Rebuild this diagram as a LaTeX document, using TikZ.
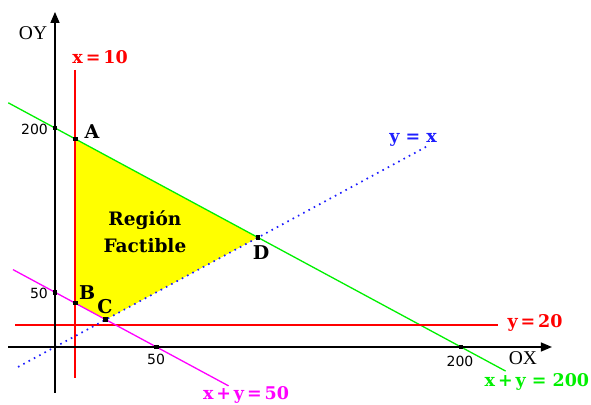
\documentclass[tikz,border=0pt]{standalone}
\usepackage{fontspec}
\setmainfont{Liberation Serif}
\newfontfamily\lblfont{DejaVu Serif}
\newfontfamily\numfont{DejaVu Sans}
\usetikzlibrary{arrows.meta}
\definecolor{lgreen}{RGB}{0,240,0}
\definecolor{lred}{RGB}{255,0,0}
\definecolor{lmag}{RGB}{255,0,255}
\definecolor{lblue}{RGB}{30,30,255}
\definecolor{lyellow}{RGB}{255,255,0}
\tikzset{
  lbl/.style={font=\lblfont\bfseries\fontsize{17.5}{19}\selectfont, inner sep=0pt},
  ptlbl/.style={font=\lblfont\bfseries\fontsize{19}{21}\selectfont, inner sep=0pt},
  num/.style={font=\numfont\fontsize{14}{15}\selectfont, inner sep=0pt},
  axlbl/.style={font=\fontsize{19.5}{21}\selectfont, inner sep=0pt},
  dotpt/.style={rectangle, fill=black, minimum size=4.5pt, inner sep=0pt},
  axis/.style={line width=1.4pt, -{Triangle[length=11pt,width=9pt]}},
  thinline/.style={line width=1.3pt}
}
\begin{document}
\begin{tikzpicture}[x=2.03pt, y=1.095pt]
\useasboundingbox (-27.09,-52.05) rectangle (264.04,316.9);
% named coordinates
\coordinate (O) at (0,0);
\coordinate (A) at (10,190);
\coordinate (B) at (10,40);
\coordinate (C) at (25,25);
\coordinate (D) at (100,100);
\coordinate (g1) at (-23,223);
\coordinate (g2) at (222,-22);
\coordinate (r1) at (10,253);
\coordinate (r2) at (10,-28);
\coordinate (h1) at (-19.7,20);
\coordinate (h2) at (218,20);
\coordinate (m1) at (-20.7,70.7);
\coordinate (m2) at (85.5,-35.5);
\coordinate (b1) at (-18.2,-18.2);
\coordinate (b2) at (183,183);
\coordinate (xa1) at (-23,0);
\coordinate (xa2) at (244.8,0);
\coordinate (ya1) at (0,-42);
\coordinate (ya2) at (0,306);
% feasible region
\fill[lyellow] (A) -- (B) -- (C) -- (D) -- cycle;
% lines
\draw[thinline, draw=lgreen] (g1) -- (g2);
\draw[line width=1.8pt, draw=lred] (r1) -- (r2);
\draw[thinline, draw=lred] (h1) -- (h2);
\draw[thinline, draw=lmag] (m1) -- (m2);
\draw[draw=lblue, line width=1.7pt, dash pattern=on 1.6pt off 4.4pt] (b1) -- (b2);
% axes
\draw[axis] (xa1) -- (xa2);
\draw[axis] (ya1) -- (ya2);
% points
\node[dotpt] (pA) at (A) {};
\node[dotpt] (pB) at (B) {};
\node[dotpt] (pC) at (C) {};
\node[dotpt] (pD) at (D) {};
\node[dotpt] (t200y) at (0,200) {};
\node[dotpt] (t50y) at (0,50) {};
\node[dotpt] (t50x) at (50,0) {};
\node[dotpt] (t200x) at (200,0) {};
% labels
\node[axlbl] (OY) at (-10.8,286.8) {OY};
\node[axlbl] (OX) at (230.5,-10) {OX};
\node[lbl, text=lred] (lx10) at (22.2,264.8) {x\,=\,10};
\node[lbl, text=lred] (ly20) at (236.5,21.9) {y\,=\,20};
\node[lbl, text=lblue] (lyx) at (176.4,189) {y = x};
\node[lbl, text=lgreen] (lg) at (237.4,-32) {x\,+\,y = 200};
\node[lbl, text=lmag] (lm) at (94.1,-43.8) {x\,+\,y\,=\,50};
\node[ptlbl] (nA) at (18.2,196.3) {A};
\node[ptlbl] (nB) at (15.8,49.3) {B};
\node[ptlbl] (nC) at (24.6,36.5) {C};
\node[ptlbl] (nD) at (101.5,85.8) {D};
\node[lbl, align=center, font=\lblfont\bfseries\fontsize{18.5}{27}\selectfont] (reg) at (44.3,105) {Región\\Factible};
\node[num] (n200y) at (-10.1,199.1) {200};
\node[num] (n50y) at (-7.9,49.3) {50};
\node[num] (n50x) at (49.8,-11) {50};
\node[num] (n200x) at (199.5,-12.8) {200};
\end{tikzpicture}
\end{document}
